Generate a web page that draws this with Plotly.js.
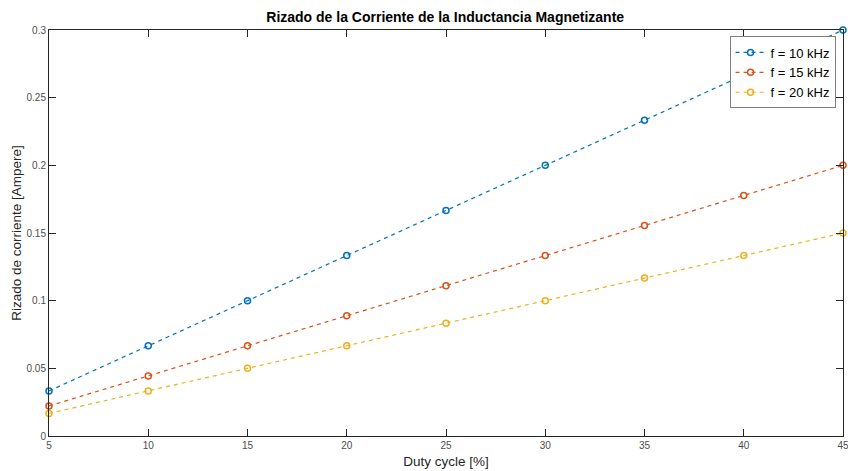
<!DOCTYPE html>
<html><head><meta charset="utf-8">
<script src="https://cdn.plot.ly/plotly-3.0.1.min.js"></script>
<style>body{margin:0;background:#fff}#c{width:848px;height:471px}</style>
</head><body><div id="c"></div>
<script>
const duty = [5, 10, 15, 20, 25, 30, 35, 40, 45];
const r10 = [0.0333, 0.0667, 0.1, 0.1333, 0.1667, 0.2, 0.2333, 0.2667, 0.3];
const r15 = [0.0222, 0.0444, 0.0667, 0.0889, 0.1111, 0.1333, 0.1556, 0.1778, 0.2];
const r20 = [0.0167, 0.0333, 0.05, 0.0667, 0.0833, 0.1, 0.1167, 0.1333, 0.15];
const names = ['f = 10 kHz', 'f = 15 kHz', 'f = 20 kHz'];
const colors = ['#0072BD', '#D95319', '#EDB120'];
const ys = [r10, r15, r20];
const xTicks = [5, 10, 15, 20, 25, 30, 35, 40, 45];
const yTicks = [0, 0.05, 0.1, 0.15, 0.2, 0.25, 0.3];
const yTickText = ['0', '0.05', '0.1', '0.15', '0.2', '0.25', '0.3'];

const traces = ys.map((y, i) => ({
  x: duty, y: y, name: names[i], type: 'scatter', mode: 'lines+markers',
  line: {color: colors[i], width: 1.2, dash: '4px,4px'},
  marker: {symbol: 'circle-open', size: 6, color: colors[i], line: {width: 1.5, color: colors[i]}},
  cliponaxis: false
}));

const axisCommon = {
  showgrid: false, zeroline: false, showline: true, mirror: 'ticks',
  linecolor: '#262626', linewidth: 1, ticks: 'inside', ticklen: 7, tickcolor: '#262626',
  ticklabeloverflow: 'allow',
  tickfont: {family: 'Liberation Sans, Arial, sans-serif', size: 10, color: '#4d4d4d'}
};

const layout = {
  width: 848, height: 471,
  margin: {l: 48.5, r: 4.5, t: 29.5, b: 34.5},
  paper_bgcolor: '#fff', plot_bgcolor: '#fff',
  title: {text: '<b>Rizado de la Corriente de la Inductancia Magnetizante</b>',
    font: {family: 'Liberation Sans, Arial, sans-serif', size: 14, color: '#000'},
    x: 0.525, xanchor: 'center', y: 0.975, yanchor: 'top'},
  xaxis: Object.assign({}, axisCommon, {range: [5, 45], tickvals: xTicks,
    title: {text: 'Duty cycle [%]', standoff: 6,
      font: {family: 'Liberation Sans, Arial, sans-serif', size: 13.5, color: '#262626'}}}),
  yaxis: Object.assign({}, axisCommon, {range: [0, 0.3], tickvals: yTicks, ticktext: yTickText,
    title: {text: 'Rizado de corriente [Ampere]', standoff: 1,
      font: {family: 'Liberation Sans, Arial, sans-serif', size: 13.5, color: '#262626'}}}),
  legend: {x: 0.9906, xanchor: 'right', y: 0.984, yanchor: 'top',
    bgcolor: '#fff', bordercolor: '#7f7f7f', borderwidth: 1,
    font: {family: 'Liberation Sans, Arial, sans-serif', size: 13, color: '#000'},
    tracegroupgap: 0, itemwidth: 30},
  showlegend: true
};

Plotly.newPlot('c', traces, layout, {displayModeBar: false, staticPlot: true});
</script>
</body></html>
